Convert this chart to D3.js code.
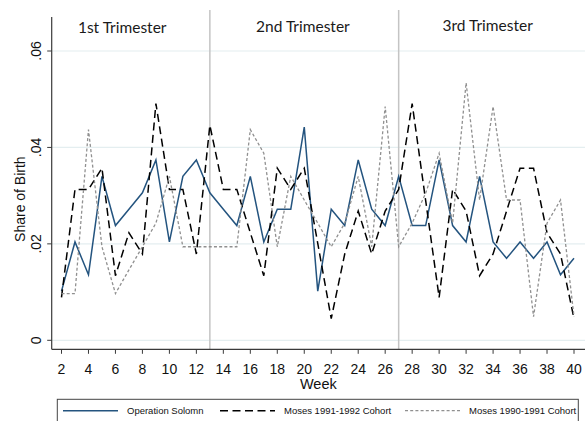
<!DOCTYPE html>
<html>
<head>
<meta charset="utf-8">
<script src="https://cdn.jsdelivr.net/npm/d3@7"></script>
<style>
  html, body { margin: 0; padding: 0; background: #fff; }
  svg { display: block; }
</style>
</head>
<body>
<svg id="chart" width="585" height="421"></svg>
<script>
// ---- data ----
const weeks = d3.range(2, 41);
const operationSolomn = [
  0.0102, 0.0204, 0.0136, 0.0340, 0.0238, 0.0272, 0.0306, 0.0374, 0.0204, 0.0340,
  0.0374, 0.0306, 0.0272, 0.0238, 0.0340, 0.0204, 0.0272, 0.0272, 0.0442, 0.0102,
  0.0272, 0.0238, 0.0374, 0.0272, 0.0238, 0.0340, 0.0238, 0.0238, 0.0374, 0.0238,
  0.0204, 0.0340, 0.0204, 0.0170, 0.0204, 0.0170, 0.0204, 0.0136, 0.0170
];
const moses9192 = [
  0.0089, 0.0313, 0.0313, 0.0357, 0.0134, 0.0223, 0.0179, 0.0491, 0.0313, 0.0313,
  0.0179, 0.0446, 0.0313, 0.0313, 0.0223, 0.0134, 0.0357, 0.0313, 0.0357, 0.0201,
  0.0045, 0.0179, 0.0268, 0.0179, 0.0268, 0.0313, 0.0491, 0.0290, 0.0089, 0.0313,
  0.0268, 0.0134, 0.0179, 0.0268, 0.0357, 0.0357, 0.0223, 0.0179, 0.0045
];
const moses9091 = [
  0.0097, 0.0097, 0.0437, 0.0194, 0.0097, 0.0146, 0.0194, 0.0243, 0.0340, 0.0194,
  0.0194, 0.0194, 0.0194, 0.0194, 0.0437, 0.0388, 0.0194, 0.0340, 0.0291, 0.0243,
  0.0194, 0.0243, 0.0340, 0.0194, 0.0485, 0.0194, 0.0243, 0.0305, 0.0388, 0.0243,
  0.0534, 0.0291, 0.0485, 0.0291, 0.0291, 0.0049, 0.0243, 0.0291, 0.0049
];
const xTicks = d3.range(2, 41, 2);
const yTicks = [0, 0.02, 0.04, 0.06];
const yTickLabels = ["0", ".02", ".04", ".06"];
const trimesterBreaks = [13, 27];
const trimesterNames = ["1st Trimester", "2nd Trimester", "3rd Trimester"];
const trimesterLabelWeeks = [6.5, 19.9, 33.6];
const seriesNames = ["Operation Solomn", "Moses 1991-1992 Cohort", "Moses 1990-1991 Cohort"];

// ---- layout ----
const svg = d3.select("#chart");
const axisLeft = 51.7, axisBottom = 349.3, plotTop = 17, plotRight = 585;
const x = d3.scaleLinear().domain([2, 40]).range([61.5, 574]);
const y = d3.scaleLinear().domain([0, 0.06]).range([340.3, 51]);

const styles = [
  { color: "#24547f", width: 1.5, dash: null },
  { color: "#000000", width: 1.5, dash: "8,4.5" },
  { color: "#909090", width: 1.3, dash: "3,2.2" }
];
const allSeries = [operationSolomn, moses9192, moses9091];

// gridlines
svg.append("g").selectAll("line").data(yTicks).join("line")
  .attr("x1", axisLeft).attr("x2", plotRight)
  .attr("y1", d => y(d)).attr("y2", d => y(d))
  .attr("stroke", "#e4eef0").attr("stroke-width", 1.2);

// trimester lines
svg.append("g").selectAll("line").data(trimesterBreaks).join("line")
  .attr("x1", d => x(d)).attr("x2", d => x(d))
  .attr("y1", 10).attr("y2", axisBottom)
  .attr("stroke", "#c4c4c4").attr("stroke-width", 1.5);

// trimester labels
svg.append("g").selectAll("text").data(trimesterNames).join("text")
  .attr("x", (d, i) => x(trimesterLabelWeeks[i]))
  .attr("y", (d, i) => [33, 32, 31][i])
  .attr("text-anchor", "middle")
  .attr("font-family", "Lato, 'Open Sans', sans-serif")
  .attr("font-size", 15.5)
  .attr("fill", "#1a1a1a")
  .text(d => d);

// series lines
const line = d3.line().x((d, i) => x(weeks[i])).y(d => y(d));
[0, 1, 2].forEach(k => {
  svg.append("path")
    .datum(allSeries[k])
    .attr("d", line)
    .attr("fill", "none")
    .attr("stroke", styles[k].color)
    .attr("stroke-width", styles[k].width)
    .attr("stroke-dasharray", styles[k].dash)
    .attr("stroke-linejoin", "miter");
});

// axes
const axisColor = "#3a3a3a";
svg.append("line")
  .attr("x1", axisLeft).attr("x2", axisLeft).attr("y1", plotTop).attr("y2", axisBottom)
  .attr("stroke", axisColor).attr("stroke-width", 1.2);
svg.append("line")
  .attr("x1", axisLeft).attr("x2", plotRight).attr("y1", axisBottom).attr("y2", axisBottom)
  .attr("stroke", axisColor).attr("stroke-width", 1.2);

// y ticks
const yg = svg.append("g");
yg.selectAll("line").data(yTicks).join("line")
  .attr("x1", axisLeft - 4.5).attr("x2", axisLeft)
  .attr("y1", d => y(d)).attr("y2", d => y(d))
  .attr("stroke", axisColor).attr("stroke-width", 1);
yg.selectAll("text").data(yTicks).join("text")
  .attr("transform", d => `translate(40.5,${y(d)}) rotate(-90)`)
  .attr("text-anchor", "middle")
  .attr("font-family", "Arial, 'Liberation Sans', sans-serif")
  .attr("font-size", 14)
  .attr("fill", "#111")
  .text((d, i) => yTickLabels[i]);

// x ticks
const xg = svg.append("g");
xg.selectAll("line").data(xTicks).join("line")
  .attr("x1", d => x(d)).attr("x2", d => x(d))
  .attr("y1", axisBottom).attr("y2", axisBottom + 4.5)
  .attr("stroke", axisColor).attr("stroke-width", 1);
xg.selectAll("text").data(xTicks).join("text")
  .attr("x", d => x(d)).attr("y", 374)
  .attr("text-anchor", "middle")
  .attr("font-family", "Arial, 'Liberation Sans', sans-serif")
  .attr("font-size", 14)
  .attr("fill", "#111")
  .text(d => d);

// axis titles
svg.append("text")
  .attr("x", (axisLeft + plotRight) / 2).attr("y", 389)
  .attr("text-anchor", "middle")
  .attr("font-family", "Arial, 'Liberation Sans', sans-serif")
  .attr("font-size", 14.5).attr("fill", "#111")
  .text("Week");
svg.append("text")
  .attr("transform", `translate(24.5,${(plotTop + axisBottom) / 2 + 16}) rotate(-90)`)
  .attr("text-anchor", "middle")
  .attr("font-family", "Arial, 'Liberation Sans', sans-serif")
  .attr("font-size", 14).attr("fill", "#111")
  .text("Share of Birth");

// legend
const lg = svg.append("g");
lg.append("rect")
  .attr("x", 57.3).attr("y", 399.3).attr("width", 521).attr("height", 30)
  .attr("fill", "#fff").attr("stroke", "#444").attr("stroke-width", 1);
const legendX = [63, 220, 405];
const legendY = 410.7;
seriesNames.forEach((name, k) => {
  lg.append("line")
    .attr("x1", legendX[k]).attr("x2", legendX[k] + 55)
    .attr("y1", legendY).attr("y2", legendY)
    .attr("stroke", styles[k].color)
    .attr("stroke-width", styles[k].width)
    .attr("stroke-dasharray", styles[k].dash);
  lg.append("text")
    .attr("x", legendX[k] + 64).attr("y", legendY + 3.4)
    .attr("font-family", "Arial, 'Liberation Sans', sans-serif")
    .attr("font-size", 9.5).attr("fill", "#111")
    .text(name);
});
</script>
</body>
</html>
